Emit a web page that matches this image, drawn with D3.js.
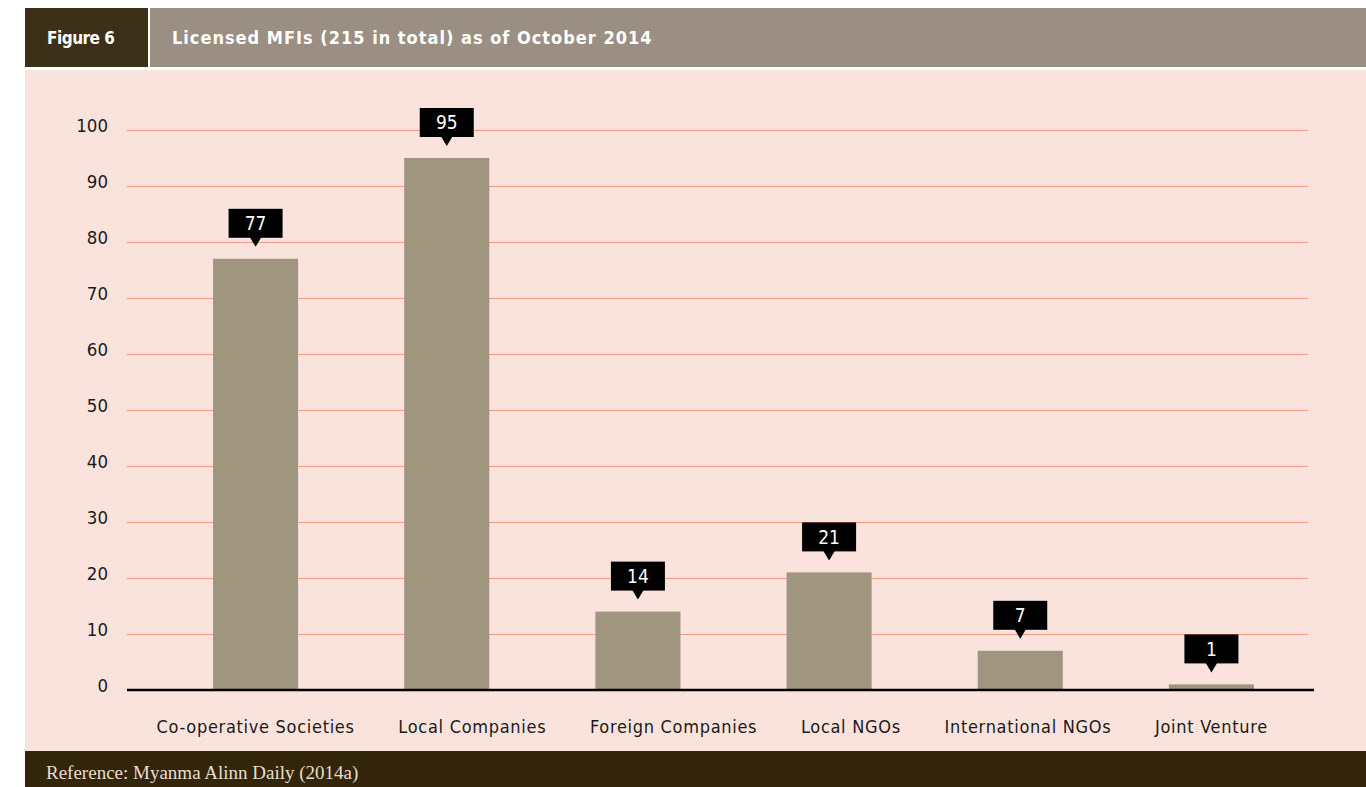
<!DOCTYPE html>
<html>
<head>
<meta charset="utf-8">
<script src="https://cdn.jsdelivr.net/npm/d3@7"></script>
<style>
  html, body { margin: 0; padding: 0; background: #fff; }
  svg { display: block; }
</style>
</head>
<body>
<svg id="chart" width="1366" height="787"></svg>
<script>
// chart data
const categories = ["Co-operative Societies", "Local Companies", "Foreign Companies", "Local NGOs", "International NGOs", "Joint Venture"];
const counts = [77, 95, 14, 21, 7, 1];
const yTicks = [0, 10, 20, 30, 40, 50, 60, 70, 80, 90, 100];

const figLabel = "Figure 6";
const title = "Licensed MFIs (215 in total) as of October 2014";
const source = "Reference: Myanma Alinn Daily (2014a)";

const condensed = "'DejaVu Sans Condensed', 'Liberation Sans Narrow', sans-serif";

const svg = d3.select("#chart");

// --- header band ---
svg.append("rect").attr("x", 25).attr("y", 8).attr("width", 123).attr("height", 59).attr("fill", "#3c3018");
svg.append("rect").attr("x", 150).attr("y", 8).attr("width", 1216).attr("height", 59).attr("fill", "#9b8e82");
svg.append("text").attr("x", 47).attr("y", 44)
  .attr("font-family", condensed).attr("font-weight", "bold").attr("font-size", 17)
  .attr("letter-spacing", -0.5)
  .attr("fill", "#fff").text(figLabel);
svg.append("text").attr("x", 172).attr("y", 44)
  .attr("font-family", condensed).attr("font-weight", "bold").attr("font-size", 18)
  .attr("letter-spacing", 1)
  .attr("fill", "#fff").text(title);

// --- panel + footer ---
svg.append("rect").attr("x", 25).attr("y", 70).attr("width", 1341).attr("height", 681).attr("fill", "#fae3dc");
svg.append("rect").attr("x", 25).attr("y", 751).attr("width", 1341).attr("height", 36).attr("fill", "#33250a");
svg.append("text").attr("x", 46).attr("y", 779)
  .attr("font-family", "'Liberation Serif', 'DejaVu Serif', serif").attr("font-size", 19)
  .attr("fill", "#e6ded2").text(source);

// --- scales ---
const x = d3.scaleBand().domain(categories).range([160, 1307])
  .paddingInner(0.555).paddingOuter(0.2775);
const y = d3.scaleLinear().domain([0, 100]).range([690, 130]);

// gridlines
svg.append("g").selectAll("line").data(yTicks.filter(d => d > 0)).join("line")
  .attr("x1", 127).attr("x2", 1308)
  .attr("y1", d => Math.round(y(d)) + 0.5).attr("y2", d => Math.round(y(d)) + 0.5)
  .attr("stroke", "#ed9a80").attr("stroke-width", 1)
  .attr("shape-rendering", "crispEdges");

// y axis labels
const yAxis = svg.append("g").attr("transform", "translate(108,0)")
  .call(d3.axisLeft(y).tickValues(yTicks).tickSize(0).tickPadding(0));
yAxis.select(".domain").remove();
yAxis.selectAll("text")
  .attr("font-family", condensed).attr("font-size", 18.5).attr("fill", "#1a1a1a")
  .attr("dy", "0.1em");

// bars
svg.append("g").selectAll("rect").data(counts).join("rect")
  .attr("x", (d, i) => x(categories[i]))
  .attr("width", x.bandwidth())
  .attr("y", d => y(d))
  .attr("height", d => y(0) - y(d))
  .attr("fill", "#a0957f");

// baseline
svg.append("line").attr("x1", 127).attr("x2", 1314).attr("y1", y(0)).attr("y2", y(0))
  .attr("stroke", "#000").attr("stroke-width", 2.5);

// x axis labels: in the original they run as one line with even gaps,
// first and last centred under their bars
const xAxis = svg.append("g").attr("transform", "translate(0,720)")
  .call(d3.axisBottom(x).tickSize(0).tickPadding(0));
xAxis.select(".domain").remove();
const labels = xAxis.selectAll("text")
  .attr("font-family", condensed).attr("font-size", 18).attr("letter-spacing", 0.7)
  .attr("fill", "#1a1a1a");

const widths = labels.nodes().map(n => n.getComputedTextLength());
const n = categories.length;
const cx0 = x(categories[0]) + x.bandwidth() / 2;
const cx1 = x(categories[n - 1]) + x.bandwidth() / 2;
const left = cx0 - widths[0] / 2;
const right = cx1 + widths[n - 1] / 2;
const gap = (right - left - d3.sum(widths)) / (n - 1);
let cursor = left;
xAxis.selectAll(".tick").each(function(d, i) {
  const centre = cursor + widths[i] / 2;
  cursor += widths[i] + gap;
  d3.select(this).attr("transform", `translate(${centre},0)`);
});

// value callouts
const boxW = 54, boxH = 29;
const callouts = svg.append("g").selectAll("g").data(counts).join("g")
  .attr("transform", (d, i) => `translate(${x(categories[i]) + x.bandwidth() / 2},${y(d) - 12})`);
callouts.append("rect")
  .attr("x", -boxW / 2).attr("y", -9 - boxH).attr("width", boxW).attr("height", boxH)
  .attr("fill", "#000");
callouts.append("path").attr("d", "M-6,-10 L6,-10 L0,0 Z").attr("fill", "#000");
callouts.append("text")
  .attr("y", -9 - boxH / 2).attr("dy", "0.36em").attr("text-anchor", "middle")
  .attr("font-family", condensed).attr("font-size", 19).attr("fill", "#fff")
  .text(d => d);
</script>
</body>
</html>
